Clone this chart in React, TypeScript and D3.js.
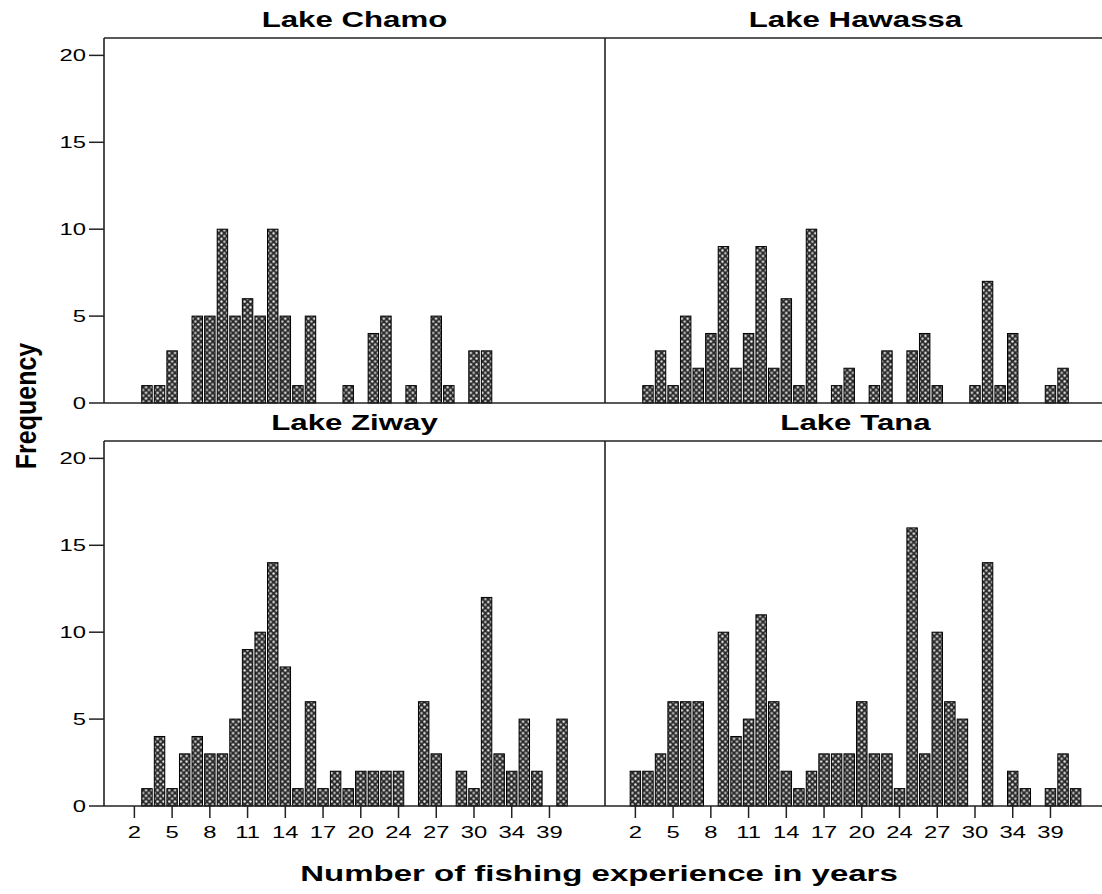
import React, { useEffect, useRef } from 'react';
import * as d3 from 'd3';

// distinct years of experience found in the data (SPSS categorical axis)
const categories = [2, 3, 4, 5, 6, 7, 8, 9, 10, 11, 12, 13, 14, 15, 16, 17, 18, 19, 20, 21, 22, 24, 25, 26, 27, 28, 29, 30, 31, 32, 34, 35, 36, 39, 40, 41];
const xTickLabels = [2, 5, 8, 11, 14, 17, 20, 24, 27, 30, 34, 39];
const yTicks = [0, 5, 10, 15, 20];

const lakes = ['Lake Chamo', 'Lake Hawassa', 'Lake Ziway', 'Lake Tana'];

const chamo = [0, 1, 1, 3, 0, 5, 5, 10, 5, 6, 5, 10, 5, 1, 5, 0, 0, 1, 0, 4, 5, 0, 1, 0, 5, 1, 0, 3, 3, 0, 0, 0, 0, 0, 0, 0];
const hawassa = [0, 1, 3, 1, 5, 2, 4, 9, 2, 4, 9, 2, 6, 1, 10, 0, 1, 2, 0, 1, 3, 0, 3, 4, 1, 0, 0, 1, 7, 1, 4, 0, 0, 1, 2, 0];
const ziway = [0, 1, 4, 1, 3, 4, 3, 3, 5, 9, 10, 14, 8, 1, 6, 1, 2, 1, 2, 2, 2, 2, 0, 6, 3, 0, 2, 1, 12, 3, 2, 5, 2, 0, 5, 0];
const tana = [2, 2, 3, 6, 6, 6, 0, 10, 4, 5, 11, 6, 2, 1, 2, 3, 3, 3, 6, 3, 3, 1, 16, 3, 10, 6, 5, 0, 14, 0, 2, 1, 0, 1, 3, 1];

const counts = [chamo, hawassa, ziway, tana];

const W = 1102;
const H = 894;

function FacetHistogram() {
  const svgRef = useRef<SVGSVGElement>(null);

  useEffect(() => {
    if (!svgRef.current) return;
    const svg = d3.select(svgRef.current);
    svg.selectAll('*').remove();

    const left = 104;
    const panelW = 501;
    const panelH = 365;
    const rowTop = [38, 441];
    const font = '"Liberation Sans", Arial, sans-serif';
    const stretch = 1.4;

    // small dotted fill, like the SPSS bar pattern
    const pat = svg.append('defs').append('pattern')
      .attr('id', 'barfill')
      .attr('patternUnits', 'userSpaceOnUse')
      .attr('width', 5.8)
      .attr('height', 5.7);
    pat.append('rect').attr('width', 5.8).attr('height', 5.7).attr('fill', '#2b2b2b');
    pat.append('circle').attr('cx', 1.45).attr('cy', 1.4).attr('r', 1.2).attr('fill', '#f4f4f4');
    pat.append('circle').attr('cx', 4.35).attr('cy', 4.25).attr('r', 1.2).attr('fill', '#cfcfcf');

    const y = d3.scaleLinear().domain([0, 21]).range([panelH, 0]);

    lakes.forEach((lake, i) => {
      const col = i % 2;
      const row = Math.floor(i / 2);
      const x0 = left + col * panelW;
      const y0 = rowTop[row];

      const x = d3.scaleBand<number>()
        .domain(categories)
        .range([0, panelW])
        .paddingInner(0.17)
        .paddingOuter(2);

      const g = svg.append('g').attr('transform', `translate(${x0},${y0})`);

      g.selectAll('rect.bar')
        .data(categories.map((c, k) => ({ c, v: counts[i][k] })).filter(d => d.v > 0))
        .join('rect')
        .attr('class', 'bar')
        .attr('x', d => x(d.c)!)
        .attr('y', d => y(d.v))
        .attr('width', x.bandwidth())
        .attr('height', d => y(0) - y(d.v))
        .attr('fill', 'url(#barfill)')
        .attr('stroke', '#000')
        .attr('stroke-width', 1);

      // panel title
      svg.append('text')
        .attr('transform', `translate(${x0 + panelW / 2},${y0 - 11}) scale(1.42,1)`)
        .attr('text-anchor', 'middle')
        .attr('font-family', font)
        .attr('font-weight', 'bold')
        .attr('font-size', 22)
        .text(lake);

      // y axis on the left column only
      if (col === 0) {
        yTicks.forEach(t => {
          g.append('line')
            .attr('x1', -15).attr('x2', 0)
            .attr('y1', y(t)).attr('y2', y(t))
            .attr('stroke', '#222').attr('stroke-width', 1.5);
          g.append('text')
            .attr('transform', `translate(-18,${y(t) + 6}) scale(${stretch},1)`)
            .attr('text-anchor', 'end')
            .attr('font-family', font)
            .attr('font-size', 17)
            .text(t);
        });
      }

      // x axis on the bottom row only
      if (row === 1) {
        xTickLabels.forEach(t => {
          const cx = x(t)! + x.bandwidth() / 2;
          g.append('line')
            .attr('x1', cx).attr('x2', cx)
            .attr('y1', panelH).attr('y2', panelH + 12)
            .attr('stroke', '#222').attr('stroke-width', 1.5);
          g.append('text')
            .attr('transform', `translate(${cx},${panelH + 32}) scale(${stretch},1)`)
            .attr('text-anchor', 'middle')
            .attr('font-family', font)
            .attr('font-size', 17)
            .text(t);
        });
      }
    });

    // frame lines
    const frame = svg.append('g').attr('stroke', '#222').attr('stroke-width', 1.6).attr('fill', 'none');
    rowTop.forEach(t => {
      frame.append('line').attr('x1', left).attr('x2', W).attr('y1', t).attr('y2', t);
      frame.append('line').attr('x1', left).attr('x2', W).attr('y1', t + panelH).attr('y2', t + panelH);
      frame.append('line').attr('x1', left).attr('x2', left).attr('y1', t).attr('y2', t + panelH);
      frame.append('line').attr('x1', left + panelW).attr('x2', left + panelW).attr('y1', t).attr('y2', t + panelH);
    });

    // axis titles
    svg.append('text')
      .attr('transform', `translate(599,881) scale(1.5,1)`)
      .attr('text-anchor', 'middle')
      .attr('font-family', font)
      .attr('font-weight', 'bold')
      .attr('font-size', 22)
      .text('Number of fishing experience in years');

    svg.append('text')
      .attr('transform', `translate(36,406) scale(1.2,1) rotate(-90)`)
      .attr('text-anchor', 'middle')
      .attr('font-family', font)
      .attr('font-weight', 'bold')
      .attr('font-size', 25)
      .text('Frequency');

    return () => { svg.selectAll('*').remove(); };
  }, []);

  return (
    <svg ref={svgRef} width={W} height={H}
      style={{ position: 'absolute', left: 0, top: 0, background: '#fff' }} />
  );
}

export default function App() {
  return <FacetHistogram />;
}
